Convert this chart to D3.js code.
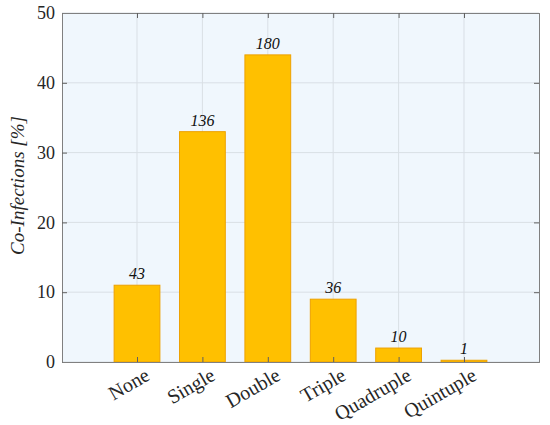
<!DOCTYPE html>
<html>
<head>
<meta charset="utf-8">
<script src="https://cdn.jsdelivr.net/npm/d3@7"></script>
<style>
  body { margin: 0; background: #fff; }
  text { font-family: "Liberation Serif", "Times New Roman", serif; fill: #262626; }
</style>
</head>
<body>
<div id="chart"></div>
<script>
// Data
const categories = ["None", "Single", "Double", "Triple", "Quadruple", "Quintuple"];
const percents = [11, 33, 44, 9, 2, 0.25];
const counts = [43, 136, 180, 36, 10, 1];
const yTicks = [0, 10, 20, 30, 40, 50];

const width = 550;
const height = 425;
const margin = { top: 13, right: 11, bottom: 63, left: 62 };
const plotW = width - margin.left - margin.right;
const plotH = height - margin.top - margin.bottom;

const svg = d3
  .select("#chart")
  .append("svg")
  .attr("width", width)
  .attr("height", height);

const g = svg.append("g").attr("transform", `translate(${margin.left},${margin.top})`);

// Scales
const x = d3.scaleLinear().domain([-0.147, 7.147]).range([0, plotW]);
const y = d3.scaleLinear().domain([0, 50]).range([plotH, 0]);
const step = x(2) - x(1);
const barW = step * 0.7;

// Background
g.append("rect")
  .attr("width", plotW)
  .attr("height", plotH)
  .attr("fill", "#f0f7fd");

// Grid
g.selectAll(".gy")
  .data(yTicks)
  .enter()
  .append("line")
  .attr("x1", 0)
  .attr("x2", plotW)
  .attr("y1", (d) => y(d))
  .attr("y2", (d) => y(d))
  .attr("stroke", "#d9dfe5")
  .attr("stroke-width", 1);

g.selectAll(".gx")
  .data(categories)
  .enter()
  .append("line")
  .attr("x1", (d, i) => x(i + 1))
  .attr("x2", (d, i) => x(i + 1))
  .attr("y1", 0)
  .attr("y2", plotH)
  .attr("stroke", "#d9dfe5")
  .attr("stroke-width", 1);

// Bars
g.selectAll(".bar")
  .data(percents)
  .enter()
  .append("rect")
  .attr("x", (d, i) => x(i + 1) - barW / 2)
  .attr("y", (d) => y(d))
  .attr("width", barW)
  .attr("height", (d) => plotH - y(d))
  .attr("fill", "#ffc000")
  .attr("stroke", "#eda100")
  .attr("stroke-width", 1);

// Value labels
g.selectAll(".val")
  .data(counts)
  .enter()
  .append("text")
  .attr("x", (d, i) => x(i + 1))
  .attr("y", (d, i) => y(percents[i]) - 6)
  .attr("text-anchor", "middle")
  .style("font-size", "16px")
  .style("font-style", "italic")
  .style("fill", "#111")
  .text((d) => d);

// Axes box with inward ticks
const axisColor = "#808080";
const yAxisL = d3.axisLeft(y).tickValues(yTicks).tickSize(-5).tickPadding(7);
const yAxisR = d3.axisRight(y).tickValues(yTicks).tickSize(-5).tickFormat("");
const xAxisB = d3.axisBottom(x).tickValues(d3.range(1, 7)).tickSize(-5).tickFormat("");
const xAxisT = d3.axisTop(x).tickValues(d3.range(1, 7)).tickSize(-5).tickFormat("");

const axL = g.append("g").call(yAxisL);
const axR = g.append("g").attr("transform", `translate(${plotW},0)`).call(yAxisR);
const axB = g.append("g").attr("transform", `translate(0,${plotH})`).call(xAxisB);
const axT = g.append("g").call(xAxisT);

[axL, axR, axB, axT].forEach((a) => {
  a.select(".domain").attr("stroke", axisColor);
  a.selectAll(".tick line").attr("stroke", "#606060");
});

axL.selectAll("text")
  .style("font-size", "18px")
  .attr("fill", "#262626");

// Category labels
g.selectAll(".cat")
  .data(categories)
  .enter()
  .append("text")
  .attr("transform", (d, i) => `translate(${x(i + 1) + 14},${plotH + 17}) rotate(-30)`)
  .attr("text-anchor", "end")
  .style("font-size", "20px")
  .text((d) => d);

// Y label
svg.append("text")
  .attr("transform", `translate(24,${margin.top + plotH / 2 - 2}) rotate(-90)`)
  .attr("text-anchor", "middle")
  .style("font-size", "19px")
  .style("font-style", "italic")
  .text("Co-Infections [%]");
</script>
</body>
</html>
